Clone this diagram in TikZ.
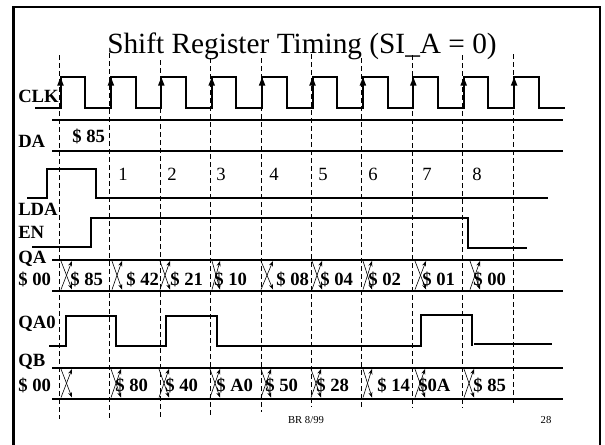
\documentclass[tikz,border=0pt]{standalone}
\usepackage{fontspec}
\setmainfont{Liberation Serif}
\usetikzlibrary{arrows.meta}
\begin{document}
\begin{tikzpicture}[x=0.75pt,y=-0.75pt,
  sig/.style={line width=1.5pt, line join=miter},
  rail/.style={line width=1.5pt},
  gridline/.style={line width=0.7pt, dash pattern=on 3.5pt off 2.5pt},
  lbl/.style={font=\fontsize{14}{14}\selectfont\bfseries, inner sep=0pt, anchor=base west},
  num/.style={font=\fontsize{14}{14}\selectfont, inner sep=0pt, anchor=base west},
  small/.style={font=\fontsize{8}{8}\selectfont, inner sep=0pt, anchor=base},
  xing/.style={line width=0.45pt, -{Stealth[length=4pt,width=3pt]}},
  edge/.style={line width=1.5pt, -{Triangle[length=6.5pt,width=4.5pt]}},
  frame/.style={line width=1.7pt}
]
\useasboundingbox (0,0) rectangle (605,444);
% frame
\draw[frame] (13.5,470) -- (13.5,7) -- (600,7) -- (600,470);
% title
\node[font=\fontsize{22}{22}\selectfont, inner sep=0pt, anchor=base] (title) at (302,53.5) {Shift Register Timing (SI\_A = 0)};
% dashed clock lines
\foreach \i/\yt/\yb in {0/55/419,1/53/419,2/60/419,3/58/415,4/58/412,5/54/407,6/58/407,7/55/408,8/55/408,9/54/405}{
  \coordinate (dt\i) at ({59.5+50.4*\i},\yt);
  \coordinate (db\i) at ({59.5+50.4*\i},\yb);
  \draw[gridline] (dt\i) -- (db\i);
}
% labels
\node[lbl] (lclk) at (18,102) {CLK};
\node[lbl] (lda) at (18,147) {DA};
\node[lbl] (llda) at (18,215) {LDA};
\node[lbl] (len) at (18,238) {EN};
\node[lbl] (lqa) at (18,263) {QA};
\node[lbl] (lqav) at (18,285) {\$ 00};
\node[lbl] (lqa0) at (18,328) {QA0};
\node[lbl] (lqb) at (18,366) {QB};
\node[lbl] (lqbv) at (18,391.5) {\$ 00};
% CLK waveform
\draw[sig] (35,108) foreach \i in {0,...,9} { -- ({60.5+50.4*\i},108) -- ({60.5+50.4*\i},77) -- ({85.2+50.4*\i},77) -- ({85.2+50.4*\i},108) } -- (565,108);
\foreach \i in {0,...,9}{
  \draw[edge] ({60.5+50.4*\i},108) -- ({60.5+50.4*\i},77);
}
% DA
\draw[rail] (52,120) -- (563,120);
\draw[rail] (52,150.7) -- (563,150.7);
\node[lbl] (da85) at (72,142.5) {\$ 85};
% LDA
\draw[sig] (27,198.3) -- (46.7,198.3) -- (46.7,169) -- (96,169) -- (96,198.3) -- (548,198.3);
\foreach \n/\x in {1/118,2/167,3/216,4/269,5/318,6/368,7/422,8/472}{
  \node[num] (n\n) at (\x,180) {\n};
}
% EN
\draw[sig] (32,246.7) -- (90.7,246.7) -- (90.7,217.7) -- (468,217.7) -- (468,247.5) -- (527,247.5);
% QA bus
\draw[rail] (52,260) -- (563,260);
\draw[rail] (52,290.7) -- (563,290.7);
\foreach \a/\b in {61/72,112/122,160/170,212/220,261/273,312/322,363/372,415/426,470/480}{
  \draw[xing] (\a,261) -- (\b,289.5);
  \draw[xing] (\a,289.5) -- (\b,261);
}
\foreach \k/\x/\v in {a/70/85,b/126/42,c/170/21,d/214/10,e/276/08,f/320/04,g/368/02,h/422/01,i/473/00}{
  \node[lbl] (qa\k) at (\x,285) {\$ \v};
}
% QA0
\draw[sig] (49,345.7) -- (66,345.7) -- (66,315.7) -- (115.7,315.7) -- (115.7,345.7) -- (165.7,345.7) -- (165.7,315.7) -- (216.7,315.7) -- (216.7,345.7) -- (420.7,345.7) -- (420.7,314.5) -- (472.3,314.5) -- (472.3,345.7);
\draw[sig] (474,343.5) -- (552,343.5);
% QB bus
\draw[rail] (52,367.7) -- (563,367.7);
\draw[rail] (52,399) -- (563,399);
\foreach \a/\b in {61/72,111/121,159/169,210/220,261/271,311/321,363/372,415/425,464/474}{
  \draw[xing] (\a,369) -- (\b,397.5);
  \draw[xing] (\a,397.5) -- (\b,369);
}
\foreach \k/\x/\v in {a/115/\$ 80,b/165/\$ 40,c/216/\$ A0,d/265/\$ 50,e/316/\$ 28,f/377/\$ 14,g/418/\$0A,h/473/\$ 85}{
  \node[lbl] (qb\k) at (\x,391.5) {\v};
}
% footer
\node[small] (foot) at (306,423) {BR 8/99};
\node[small] (page) at (546,423) {28};
\end{tikzpicture}
\end{document}
